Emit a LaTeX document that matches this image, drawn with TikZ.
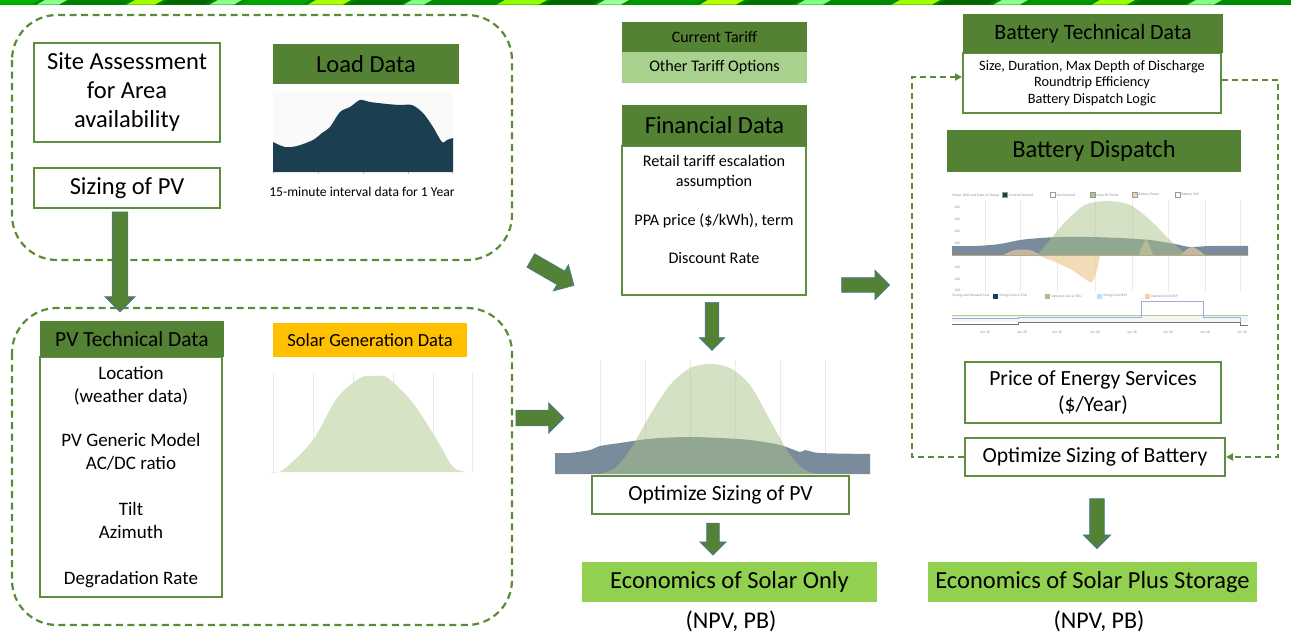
\documentclass[tikz,border=0pt]{standalone}
\usepackage{fontspec}
\setmainfont{Carlito}
\usetikzlibrary{shapes.arrows,arrows.meta}

\definecolor{pvDark}{HTML}{548235}
\definecolor{pvFrame}{HTML}{5E8F3E}
\definecolor{pvDash}{HTML}{5B8C35}
\definecolor{pvLight}{HTML}{A9D18E}
\definecolor{pvBright}{HTML}{92D050}
\definecolor{pvOrange}{HTML}{FFC000}
\definecolor{arrowBlue}{HTML}{4A78A8}
\definecolor{loadNavy}{HTML}{1B3F50}
\definecolor{loadGray}{HTML}{7A8B9C}
\definecolor{bellGreen}{HTML}{A9C38A}
\definecolor{solarGreen}{HTML}{D6E3C5}
\definecolor{battOrange}{HTML}{EFD3A6}

\tikzset{
  groupbox/.style={draw=pvDash, line width=2.2pt, dash pattern=on 7pt off 4.5pt, rounded corners=45pt},
  framebox/.style={draw=pvFrame, line width=2pt, fill=white, align=center, inner sep=0pt},
  headbox/.style={fill=pvDark, inner sep=0pt, align=center},
  blockarrow/.style={single arrow, fill=pvDark, draw=arrowBlue, line width=0.6pt, inner xsep=0pt, inner ysep=7.5pt, single arrow head extend=7.5pt, single arrow tip angle=90, minimum width=0pt},
  loopline/.style={draw=pvDash, line width=2pt, dash pattern=on 6pt off 4pt, -{Triangle[length=7pt,width=7pt]}},
  gridline/.style={draw=black!8, line width=0.8pt},
  big/.style={font=\fontsize{24.5}{29}\selectfont},
  mid/.style={font=\fontsize{21.6}{26}\selectfont},
  body/.style={font=\fontsize{19}{23}\selectfont},
  small/.style={font=\fontsize{16.2}{19.5}\selectfont},
  note/.style={font=\fontsize{13.6}{17}\selectfont},
  micro/.style={font=\fontsize{3.6}{4}\selectfont, text=black!45, inner sep=0.5pt}
}

\begin{document}
\begin{tikzpicture}[x=1pt, y=-1pt]

  \useasboundingbox (0,0) rectangle (1291,632);

  % Green strip on top
  \fill[green!55!black] (0,0) rectangle (1291,4.5);
  \foreach \x/\w/\c in {0/40/green!70!black, 45/22/green!45, 72/58/green!50!black, 135/28/lime!85!green, 168/45/green!40!black, 218/24/green!45, 248/62/green!65!black, 316/35/lime!90!green, 356/52/green!45!black, 412/20/green!50, 438/62/green!55!black, 505/42/lime!75!green, 552/48/green!40!black, 605/24/green!40, 634/68/green!60!black, 708/36/lime!95!green, 750/50/green!45!black, 805/26/green!50, 838/57/green!55!black, 900/40/lime!85!green, 945/52/green!40!black, 1002/26/green!45, 1034/62/green!60!black, 1100/35/lime!80!green, 1140/52/green!45!black, 1196/26/green!50, 1228/63/green!55!black}
    \fill[\c] (\x,0) -- (\x+\w,0) -- (\x+\w-8,4.5) -- (\x-8,4.5) -- cycle;

  % Dashed groups
  \draw[groupbox] (12,15) rectangle (512,260);
  \draw[groupbox] (12,308) rectangle (512,625);

  % Site assessment and sizing
  \node (siteBox) at (127,92.5) [framebox, big, minimum width=186pt, minimum height=99pt]{Site Assessment\\for Area\\availability};
  \node (sizingBox) at (127,188) [framebox, big, minimum width=186pt, minimum height=40pt]{Sizing of PV};

  % Load data
  \node (loadHead) at (366,64) [headbox, big, minimum width=186pt, minimum height=40pt]{Load Data};
  \fill[black!2] (273,92) rectangle (453,172);
  \fill[loadNavy] (273,172) -- plot[smooth] coordinates {(273,142) (285,147) (297,146) (313,140) (322,133) (330,127) (340,112) (350,107) (360,100) (370,102) (387,104) (400,105) (412,105) (423,113) (433,127) (442,142) (447,140) (453,138)} -- (453,172) -- cycle;
  \foreach \x in {273,318,363,408,452}
    \draw[black!25, line width=0.5pt] (\x,172) -- (\x,174);
  \node (loadNote) at (362,192) [note]{15-minute interval data for 1 Year};

  % Arrow from sizing down to PV data
  \node (sizingArrow) at (120,258) [blockarrow, rotate=-90, minimum height=100pt]{};

  % PV technical data
  \node (pvBody) at (131,477) [framebox, body, minimum width=182pt, minimum height=240pt]{Location\\(weather data)\\[21pt]PV Generic Model\\AC/DC ratio\\[23pt]Tilt\\Azimuth\\[23pt]Degradation Rate};
  \node (pvHead) at (132,339) [headbox, font=\fontsize{21.5}{25}\selectfont, minimum width=184pt, minimum height=36pt]{PV Technical Data};

  % Solar generation data
  \node (solarHead) at (370,340) [headbox, fill=pvOrange, font=\fontsize{18.5}{22}\selectfont, minimum width=194pt, minimum height=34pt]{Solar Generation Data};
  \foreach \x in {273,313,353,393,433,472}
    \draw[gridline] (\x,373) -- (\x,472);
  \fill[solarGreen] (270,472) -- plot[smooth] coordinates {(270,472) (283,470) (313,440) (337,398) (360,378) (375,376) (388,378) (413,403) (437,440) (453,467) (467,472)} -- cycle;

  % Tariffs
  \node (tariffNow) at (714.5,37) [headbox, font=\fontsize{15.9}{19}\selectfont, minimum width=185pt, minimum height=30pt]{Current Tariff};
  \node (tariffOther) at (714.5,67.5) [headbox, fill=pvLight, font=\fontsize{16.2}{19}\selectfont, minimum width=185pt, minimum height=31pt]{Other Tariff Options};

  % Financial data
  \node (finBody) at (714,220.5) [framebox, minimum width=184pt, minimum height=149pt]{};
  \node (finHead) at (714.5,125.5) [headbox, big, minimum width=185pt, minimum height=41pt]{Financial Data};
  \node (finText) at (714,209.5) [small, align=center]{Retail tariff escalation\\assumption\\[20pt]PPA price (\$/kWh), term\\[18pt]Discount Rate};

  % Arrows into the middle column
  \node (groupArrow) at (549,271) [blockarrow, rotate=-30, minimum height=50pt]{};
  \node (finArrow) at (712,323) [blockarrow, rotate=-90, inner ysep=6.5pt, single arrow head extend=6pt, minimum height=48pt]{};
  \node (pvArrow) at (536,418) [blockarrow, minimum height=48pt]{};

  % Solar only chart
  \foreach \x in {600,645,690,735,780,825}
    \draw[gridline] (\x,360) -- (\x,474);
  \fill[loadGray] (555,474) -- plot[smooth] coordinates {(555,453) (570,453) (590,450) (600,446) (620,443) (640,440) (660,438) (690,437) (720,438) (750,440) (780,445) (800,452) (805,450) (820,453) (870,454)} -- (870,474) -- cycle;
  \fill[bellGreen, opacity=0.5] (600,474) -- plot[smooth] coordinates {(600,474) (615,468) (630,450) (650,415) (670,385) (690,368) (710,364) (730,368) (750,385) (770,420) (790,455) (805,470) (817,474)} -- cycle;

  \node (optPV) at (720.5,495) [framebox, mid, minimum width=257pt, minimum height=38pt]{Optimize Sizing of PV};
  \node (optPVArrow) at (713,536) [blockarrow, rotate=-90, inner ysep=6pt, single arrow head extend=7pt, minimum height=32pt]{};
  \node (ecoSolar) at (729.5,582) [headbox, fill=pvBright, big, minimum width=295pt, minimum height=40pt]{Economics of Solar Only};
  \node (ecoSolarNote) at (731,621) [font=\fontsize{24}{28}\selectfont]{(NPV, PB)};

  % Arrow to battery column
  \node (battArrow) at (862,285) [blockarrow, inner ysep=7pt, minimum height=48pt]{};

  % Battery technical data
  \node (battBody) at (1092,83) [framebox, font=\fontsize{14.3}{16.5}\selectfont, minimum width=258pt, minimum height=60pt]{Size, Duration, Max Depth of Discharge\\Roundtrip Efficiency\\Battery Dispatch Logic};
  \node (battHead) at (1093,33.5) [headbox, font=\fontsize{21.9}{25}\selectfont, minimum width=260pt, minimum height=39pt]{Battery Technical Data};

  % Battery dispatch
  \node (dispHead) at (1094,151) [headbox, big, minimum width=294pt, minimum height=42pt]{Battery Dispatch};

  % Dispatch chart, upper panel
  \node (dispTitle) at (952,195) [micro, anchor=west]{Power (kW) and State of Charge};
  \foreach \x/\c/\t in {1002/loadNavy/Current Demand, 1050/white/Net Demand, 1090/bellGreen/Solar PV Power, 1132/battOrange/Battery Power, 1175/white/Battery SOC}{
    \fill[\c] (\x,192.5) rectangle (\x+5,197.5);
    \draw[black!40, line width=0.3pt] (\x,192.5) rectangle (\x+5,197.5);
    \node at (\x+6,195) [micro, anchor=west]{\t};
  }
  \foreach \y/\v in {207/400, 219/300, 231/200, 243/100, 267/-100, 279/-200, 290/-300}
    \node at (957,\y) [micro]{\v};
  \foreach \x in {985,1020,1057,1095,1132,1168,1205,1240}
    \draw[gridline, line width=0.5pt] (\x,200) -- (\x,292);
  \fill[loadGray] (952,255) -- plot[smooth] coordinates {(952,246) (975,246) (1000,244) (1020,240) (1040,238) (1060,237) (1090,237) (1120,238) (1150,240) (1175,244) (1190,247) (1210,246) (1248,246)} -- (1248,255) -- cycle;
  \fill[battOrange, opacity=0.8] plot[smooth] coordinates {(1037,255) (1055,262) (1072,270) (1085,279) (1092,282) (1097,270) (1100,255)} -- cycle;
  \fill[battOrange, opacity=0.6] plot[smooth] coordinates {(1003,255) (1015,250) (1030,250) (1040,255)} -- cycle;
  \fill[battOrange, opacity=0.6] plot[smooth] coordinates {(1139,255) (1146,240) (1153,255)} -- cycle;
  \fill[battOrange, opacity=0.6] plot[smooth] coordinates {(1180,255) (1192,247) (1205,255)} -- cycle;
  \fill[bellGreen, opacity=0.5] plot[smooth] coordinates {(1037,255) (1050,240) (1065,222) (1085,205) (1107,201) (1130,205) (1150,220) (1170,240) (1187,255)} -- cycle;
  \draw[battOrange!80!black, line width=0.5pt] (952,255) -- (1248,255);

  % Dispatch chart, lower panel
  \node (costTitle) at (952,296) [micro, anchor=west]{Energy and Demand Cost};
  \foreach \x/\c/\t in {993/loadNavy/Energy Cost A-TOU, 1045/bellGreen/Demand Cost A-TOU, 1097/cyan!30/Energy Cost B19, 1145/battOrange/Demand Cost B19}{
    \fill[\c] (\x,293.5) rectangle (\x+5,298.5);
    \node at (\x+6,296) [micro, anchor=west]{\t};
  }
  \fill[black!4] (952,315) rectangle (1248,322);
  \draw[pvLight, line width=0.6pt] (952,315) -- (1248,315);
  \draw[cyan!40!blue!40, line width=0.6pt] (952,318) -- (1018,318) -- (1018,317) -- (1141,317) -- (1141,301) -- (1203,301) -- (1203,317) -- (1240,317) -- (1240,322);
  \draw[black!55, line width=0.6pt] (952,324) -- (1018,324) -- (1018,322) -- (1240,322) -- (1240,325) -- (1248,325);
  \foreach \x in {985,1022,1057,1095,1132,1168,1205,1242}
    \node at (\x,332) [micro]{Jun 28};

  % Price and battery sizing
  \node (priceBox) at (1093,392.5) [framebox, mid, minimum width=256pt, minimum height=61pt]{Price of Energy Services\\(\$/Year)};
  \node (optBatt) at (1095,457) [framebox, mid, minimum width=260pt, minimum height=38pt]{Optimize Sizing of Battery};

  % Feedback loop around the battery column
  \coordinate (loopLeft) at (912,457);
  \coordinate (loopLeftTop) at (912,77);
  \coordinate (loopRightTop) at (1278,80);
  \coordinate (loopRight) at (1278,457);
  \draw[loopline] (optBatt.west) -- (loopLeft) -- (loopLeftTop) -- (loopLeftTop -| battBody.west);
  \draw[loopline] (loopRightTop -| battBody.east) -- (loopRightTop) -- (loopRight) -- (optBatt.east);

  \node (optBattArrow) at (1097,520) [blockarrow, rotate=-90, inner ysep=7pt, single arrow head extend=6.5pt, minimum height=50pt]{};
  \node (ecoStorage) at (1092.5,582) [headbox, fill=pvBright, big, minimum width=329pt, minimum height=40pt]{Economics of Solar Plus Storage};
  \node (ecoStorageNote) at (1099,621) [font=\fontsize{24}{28}\selectfont]{(NPV, PB)};

\end{tikzpicture}
\end{document}
